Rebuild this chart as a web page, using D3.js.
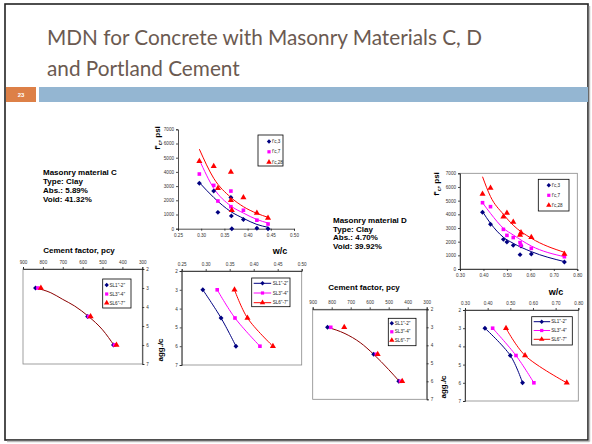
<!DOCTYPE html>
<html><head><meta charset="utf-8">
<script src="https://cdn.jsdelivr.net/npm/d3@7"></script>
<style>html,body{margin:0;padding:0;background:#fff;}svg{display:block;}</style>
</head><body>
<script>
// ---------- data ----------
const strengthNames = ["f'c,3", "f'c,7", "f'c,28"];
const slumpNames = ['SL1"-2"', 'SL3"-4"', 'SL6"-7"'];
const wcTicksC = [0.25, 0.30, 0.35, 0.40, 0.45, 0.50];
const wcTicksD = [0.30, 0.40, 0.50, 0.60, 0.70, 0.80];
const psiTicks = [0, 1000, 2000, 3000, 4000, 5000, 6000, 7000];
const cementTicks = [900, 800, 700, 600, 500, 400, 300];
const aggTicks = [2, 3, 4, 5, 6, 7];
const masonryC = ["Masonry material C", "Type: Clay", "Abs.: 5.89%", "Void: 41.32%"];
const masonryD = ["Masonry material D", "Type: Clay", "Abs.: 4.70%", "Void: 39.92%"];

// Material C: strength vs w/c (measured)
const cFc3 = [[0.296,3200],[0.327,2650],[0.336,1150],[0.364,2200],[0.365,900],[0.366,0],[0.391,650],[0.420,30],[0.444,0]];
const cFc7 = [[0.296,3850],[0.327,3050],[0.336,1950],[0.364,2650],[0.364,1550],[0.391,1300],[0.420,600],[0.444,330]];
const cFc28 = [[0.296,4750],[0.327,4400],[0.336,2850],[0.364,4000],[0.364,2000],[0.366,1300],[0.391,2200],[0.420,1100],[0.444,750]];
// Material C: trend lines
const cFit3 = [[0.296,3250],[0.327,2200],[0.364,1200],[0.391,730],[0.420,300],[0.444,100]];
const cFit7 = [[0.296,4850],[0.327,2850],[0.364,1600],[0.391,1100],[0.420,650],[0.444,400]];
const cFit28 = [[0.296,5600],[0.327,3550],[0.364,2200],[0.391,1550],[0.420,1080],[0.444,800]];
// Material C: agg/c vs cement factor
const cCem1 = [[837,3],[575,4.5],[445,6]];
const cCem3 = [[825,3],[570,4.5],[440,6]];
const cCem6 = [[810,3],[560,4.5],[430,6]];
const cCemFit = [[837,3],[760,3.25],[700,3.6],[640,3.95],[570,4.5],[500,5.2],[440,6.05]];
// Material C: agg/c vs w/c
const cWc1 = [[0.294,3],[0.332,4.5],[0.363,6]];
const cWc3 = [[0.324,3],[0.361,4.5],[0.413,6]];
const cWc6 = [[0.360,3],[0.387,4.5],[0.440,6]];

// Material D: strength vs w/c
const dFc3 = [[0.396,4150],[0.430,3270],[0.485,2170],[0.500,1980],[0.527,1730],[0.556,1050],[0.560,1680],[0.604,1100],[0.745,510]];
const dFc7 = [[0.396,4850],[0.430,4560],[0.485,2900],[0.500,2460],[0.527,2300],[0.556,1930],[0.560,1730],[0.604,1510],[0.745,900]];
const dFc28 = [[0.396,5490],[0.430,5930],[0.485,3830],[0.500,4100],[0.527,3440],[0.556,2490],[0.560,2660],[0.604,2320],[0.745,1100]];
const dFit3 = [[0.396,4200],[0.430,3340],[0.485,2320],[0.527,1880],[0.604,1270],[0.745,540]];
const dFit7 = [[0.396,4850],[0.430,4070],[0.485,2980],[0.527,2490],[0.604,1680],[0.745,900]];
const dFit28 = [[0.396,6750],[0.430,5300],[0.485,4000],[0.527,3200],[0.604,2250],[0.745,1220]];
// Material D: agg/c vs cement factor
const dCem1 = [[822,3],[579,4.5],[447,6]];
const dCem3 = [[805,3],[565,4.5],[438,6]];
const dCem6 = [[734,3],[558,4.5],[429,6]];
const dCemFit = [[822,3],[730,3.35],[650,3.85],[579,4.5],[500,5.35],[440,6.05]];
// Material D: agg/c vs w/c
const dWc1 = [[0.388,3],[0.500,4.5],[0.554,6]];
const dWc3 = [[0.422,3],[0.525,4.5],[0.604,6]];
const dWc6 = [[0.481,3],[0.565,4.5],[0.749,6]];

// ---------- drawing ----------
const W = 592, H = 444;
const colors = ["#000080", "#ff00ff", "#ff0000"];
const symbols = [d3.symbolSquare, d3.symbolSquare, d3.symbolTriangle];
const symRot = [45, 0, 0];
const symSize = [12, 13, 16];
const svg = d3.select("body").append("svg").attr("width", W).attr("height", H);
const FONT = "'Liberation Sans', Arial, sans-serif";

// slide frame
svg.append("rect").attr("x", 5).attr("y", 4).attr("width", 583).attr("height", 436)
  .attr("fill", "#fff").attr("stroke", "#222").attr("stroke-width", 1.6);
svg.append("line").attr("x1", 589.5).attr("y1", 6).attr("x2", 589.5).attr("y2", 441.5).attr("stroke", "#bbb").attr("stroke-width", 1.5);
svg.append("line").attr("x1", 7).attr("y1", 441.5).attr("x2", 589.5).attr("y2", 441.5).attr("stroke", "#bbb").attr("stroke-width", 1.5);

// title
const title = svg.append("g").attr("fill", "#6b5a51").style("font-family", "Lato, 'Open Sans', sans-serif");
const t1 = title.append("text").attr("x", 47).attr("y", 45).style("font-size", "22px").text("MDN for Concrete with Masonry Materials C, D");
const t2 = title.append("text").attr("x", 47).attr("y", 76).style("font-size", "22px").text("and Portland Cement");
const len1 = t1.node().getComputedTextLength();
const fs = 22 * 435 / len1;
t1.style("font-size", fs + "px"); t2.style("font-size", fs + "px");

// number box and bar
svg.append("rect").attr("x", 6).attr("y", 87).attr("width", 30).attr("height", 15).attr("fill", "#dd8047");
svg.append("text").attr("x", 21).attr("y", 97).attr("text-anchor", "middle").attr("fill", "#fff")
  .style("font-family", FONT).style("font-size", "6px").style("font-weight", "bold").text("23");
svg.append("rect").attr("x", 39).attr("y", 87).attr("width", 549).attr("height", 15).attr("fill", "#94b6d2");

function textBlock(lines, x, y0, dy) {
  const g = svg.append("g").style("font-family", FONT).style("font-size", "8px").style("font-weight", "bold");
  lines.forEach((l, i) => g.append("text").attr("x", x).attr("y", y0 + i * dy).text(l));
}
textBlock(masonryC, 43, 174.5, 9.3);
textBlock(masonryD, 333, 223, 8.7);

function label(txt, x, y, rot, size) {
  const t = svg.append("text").attr("text-anchor", "middle")
    .attr("transform", `translate(${x},${y})` + (rot ? " rotate(-90)" : ""))
    .style("font-family", FONT).style("font-size", (size || 8) + "px").style("font-weight", "bold");
  t.text(txt);
  return t;
}
function fcLabel(x, y) {
  const t = svg.append("text").attr("text-anchor", "middle")
    .attr("transform", `translate(${x},${y}) rotate(-90)`)
    .style("font-family", FONT).style("font-size", "8px").style("font-weight", "bold");
  t.append("tspan").text("f'");
  t.append("tspan").attr("dy", 2).style("font-size", "5.5px").text("c");
  t.append("tspan").attr("dy", -2).text(", psi");
}
fcLabel(160, 138);
fcLabel(439, 184);
label("w/c", 280, 254, false, 9);
label("w/c", 556, 295, false, 9);
label("Cement factor, pcy", 79, 253, false, 8);
label("Cement factor, pcy", 364, 290, false, 8);
label("agg./c", 163, 350, true, 8);
label("agg./c", 446, 387, true, 8);

function chart(o) {
  const g = svg.append("g");
  const x = d3.scaleLinear().domain(o.xd).range(o.xr);
  const y = d3.scaleLinear().domain(o.yd).range(o.yr);
  if (o.frame) {
    g.append("rect").attr("x", Math.min(...o.xr)).attr("y", Math.min(...o.yr))
      .attr("width", Math.abs(o.xr[1] - o.xr[0])).attr("height", Math.abs(o.yr[1] - o.yr[0]))
      .attr("fill", "none").attr("stroke", "#888").attr("stroke-width", 0.8);
  }
  const xa = (o.xPos === "top" ? d3.axisTop(x) : d3.axisBottom(x)).tickValues(o.xt).tickFormat(o.xf).tickSize(2).tickPadding(3);
  const ya = (o.yPos === "right" ? d3.axisRight(y) : d3.axisLeft(y)).tickValues(o.yt).tickFormat(o.yf).tickSize(2).tickPadding(2);
  const xy = o.xPos === "top" ? Math.min(...o.yr) : Math.max(...o.yr);
  const yx = o.yPos === "right" ? Math.max(...o.xr) : Math.min(...o.xr);
  [g.append("g").attr("transform", `translate(0,${xy})`).call(xa),
   g.append("g").attr("transform", `translate(${yx},0)`).call(ya)].forEach(a => {
    a.selectAll("text").style("font-family", FONT).style("font-size", "4.6px").attr("fill", "#333");
    a.selectAll("path,line").attr("stroke", "#222").attr("stroke-width", 0.8);
  });
  const line = d3.line().x(d => x(d[0])).y(d => y(d[1]));
  if (o.fits) o.fits.forEach((f, i) => {
    const pts = f.data.slice().sort((a, b) => x(a[0]) - x(b[0]));
    g.append("path").attr("d", line.curve(d3.curveMonotoneX)(pts)).attr("fill", "none")
      .attr("stroke", f.color).attr("stroke-width", 1);
  });
  if (o.lines) o.lines.forEach((s, i) => {
    g.append("path").attr("d", line.curve(d3.curveCatmullRom)(s)).attr("fill", "none")
      .attr("stroke", colors[i]).attr("stroke-width", 1);
  });
  o.series.forEach((s, i) => {
    g.selectAll(null).data(s).join("path")
      .attr("d", d3.symbol(symbols[i], symSize[i]))
      .attr("transform", d => `translate(${x(d[0])},${y(d[1])}) rotate(${symRot[i]})`)
      .attr("fill", colors[i]);
  });
  // legend
  const L = o.legend;
  g.append("rect").attr("x", L.x).attr("y", L.y).attr("width", L.w).attr("height", L.h)
    .attr("fill", "#fff").attr("stroke", "#000").attr("stroke-width", 0.8);
  L.names.forEach((n, i) => {
    const yy = L.y + L.y0 + i * L.dy;
    if (L.line) g.append("line").attr("x1", L.x + 2).attr("x2", L.x + L.lineW + 2).attr("y1", yy).attr("y2", yy)
      .attr("stroke", colors[i]).attr("stroke-width", 1);
    g.append("path").attr("d", d3.symbol(symbols[i], symSize[i] * 0.8)())
      .attr("transform", `translate(${L.x + L.mx},${yy}) rotate(${symRot[i]})`).attr("fill", colors[i]);
    g.append("text").attr("x", L.x + L.tx).attr("y", yy + 1.6)
      .style("font-family", FONT).style("font-size", "4.6px").attr("fill", "#222").text(n);
  });
}

const f2 = d3.format(".2f"), fd = d3.format("d");

// C strength
chart({xd: [0.25, 0.50], xr: [178, 294], yd: [0, 7000], yr: [228.7, 129.3], xt: wcTicksC, yt: psiTicks,
  xf: f2, yf: fd, xPos: "bottom", yPos: "left", frame: false,
  fits: [{data: cFit3, color: colors[0]}, {data: cFit7, color: colors[1]}, {data: cFit28, color: colors[2]}],
  series: [cFc3, cFc7, cFc28],
  legend: {x: 258, y: 135, w: 25, h: 31, names: strengthNames, y0: 6.5, dy: 10.3, mx: 11, tx: 14}});

// D strength
chart({xd: [0.30, 0.80], xr: [460, 577.3], yd: [0, 7000], yr: [269, 173.3], xt: wcTicksD, yt: psiTicks,
  xf: f2, yf: fd, xPos: "bottom", yPos: "left", frame: true,
  fits: [{data: dFit3, color: colors[0]}, {data: dFit7, color: colors[1]}, {data: dFit28, color: colors[2]}],
  series: [dFc3, dFc7, dFc28],
  legend: {x: 538.3, y: 179.3, w: 30.7, h: 31.7, names: strengthNames, y0: 6, dy: 10, mx: 10.5, tx: 13.5}});

// C cement
chart({xd: [900, 300], xr: [23, 142.3], yd: [2, 7], yr: [269, 364], xt: cementTicks, yt: aggTicks,
  xf: fd, yf: fd, xPos: "top", yPos: "right", frame: true,
  fits: [{data: cCemFit, color: "#8b0000"}],
  series: [cCem1, cCem3, cCem6],
  legend: {x: 102.7, y: 279, w: 28.3, h: 29, names: slumpNames, y0: 6, dy: 9, mx: 4, tx: 6.8}});

// C w/c vs agg
chart({xd: [0.25, 0.50], xr: [181.7, 301.7], yd: [2, 7], yr: [271, 365], xt: wcTicksC, yt: aggTicks,
  xf: f2, yf: fd, xPos: "top", yPos: "left", frame: true,
  lines: [cWc1, cWc3, cWc6],
  series: [cWc1, cWc3, cWc6],
  legend: {x: 251.7, y: 278, w: 38.3, h: 28.7, names: slumpNames, y0: 5.3, dy: 9.7, line: true, lineW: 17.5, mx: 10.8, tx: 21}});

// D cement
chart({xd: [900, 300], xr: [312.7, 426.7], yd: [2, 7], yr: [309.3, 399.3], xt: cementTicks, yt: aggTicks,
  xf: fd, yf: fd, xPos: "top", yPos: "right", frame: true,
  fits: [{data: dCemFit, color: "#8b0000"}],
  series: [dCem1, dCem3, dCem6],
  legend: {x: 388.3, y: 318.3, w: 27.7, h: 27.4, names: slumpNames, y0: 5, dy: 8.5, mx: 3.5, tx: 6.5}});

// D w/c vs agg
chart({xd: [0.30, 0.80], xr: [465, 578.3], yd: [2, 7], yr: [310, 401], xt: wcTicksD, yt: aggTicks,
  xf: f2, yf: fd, xPos: "top", yPos: "left", frame: true,
  lines: [dWc1, dWc3, dWc6],
  series: [dWc1, dWc3, dWc6],
  legend: {x: 531.7, y: 316.7, w: 40.6, h: 28.3, names: slumpNames, y0: 5, dy: 8.8, line: true, lineW: 16.5, mx: 10, tx: 19.5}});
</script>
</body></html>
